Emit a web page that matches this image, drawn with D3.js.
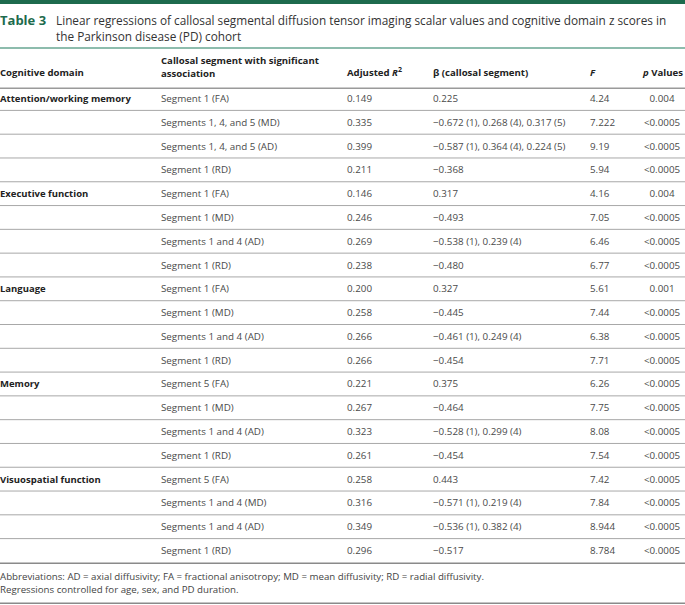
<!DOCTYPE html>
<html><head><meta charset="utf-8">
<script src="https://cdn.jsdelivr.net/npm/d3@7/dist/d3.min.js"></script>
<style>body{margin:0;background:#fff}svg{display:block}</style>
</head><body>
<script>
const domains = ["Attention/working memory","Executive function","Language","Memory","Visuospatial function"];
const segments = [
 ["Segment 1 (FA)","Segments 1, 4, and 5 (MD)","Segments 1, 4, and 5 (AD)","Segment 1 (RD)"],
 ["Segment 1 (FA)","Segment 1 (MD)","Segments 1 and 4 (AD)","Segment 1 (RD)"],
 ["Segment 1 (FA)","Segment 1 (MD)","Segments 1 and 4 (AD)","Segment 1 (RD)"],
 ["Segment 5 (FA)","Segment 1 (MD)","Segments 1 and 4 (AD)","Segment 1 (RD)"],
 ["Segment 5 (FA)","Segments 1 and 4 (MD)","Segments 1 and 4 (AD)","Segment 1 (RD)"]
];
const adjR2 = [
 ["0.149","0.335","0.399","0.211"],
 ["0.146","0.246","0.269","0.238"],
 ["0.200","0.258","0.266","0.266"],
 ["0.221","0.267","0.323","0.261"],
 ["0.258","0.316","0.349","0.296"]
];
const beta = [
 ["0.225","\u22120.672 (1), 0.268 (4), 0.317 (5)","\u22120.587 (1), 0.364 (4), 0.224 (5)","\u22120.368"],
 ["0.317","\u22120.493","\u22120.538 (1), 0.239 (4)","\u22120.480"],
 ["0.327","\u22120.445","\u22120.461 (1), 0.249 (4)","\u22120.454"],
 ["0.375","\u22120.464","\u22120.528 (1), 0.299 (4)","\u22120.454"],
 ["0.443","\u22120.571 (1), 0.219 (4)","\u22120.536 (1), 0.382 (4)","\u22120.517"]
];
const fVals = [
 ["4.24","7.222","9.19","5.94"],
 ["4.16","7.05","6.46","6.77"],
 ["5.61","7.44","6.38","7.71"],
 ["6.26","7.75","8.08","7.54"],
 ["7.42","7.84","8.944","8.784"]
];
const pVals = [
 ["0.004","<0.0005","<0.0005","<0.0005"],
 ["0.004","<0.0005","<0.0005","<0.0005"],
 ["0.001","<0.0005","<0.0005","<0.0005"],
 ["<0.0005","<0.0005","<0.0005","<0.0005"],
 ["<0.0005","<0.0005","<0.0005","<0.0005"]
];
const titleLabel = "Table 3";
const titleLines = ["Linear regressions of callosal segmental diffusion tensor imaging scalar values and cognitive domain z scores in","the Parkinson disease (PD) cohort"];
const notes = ["Abbreviations: AD = axial diffusivity; FA = fractional anisotropy; MD = mean diffusivity; RD = radial diffusivity.","Regressions controlled for age, sex, and PD duration."];

const W = 685, H = 605;
const FONT = "'Open Sans', sans-serif";
const GREEN = "#1d6b4d";
const svg = d3.select("body").append("svg").attr("width", W).attr("height", H);
const g = svg.append("g");

const rows = [];
domains.forEach((d, i) => segments[i].forEach((s, j) => rows.push({
  domain: j === 0 ? d : "", seg: s, r2: adjR2[i][j], b: beta[i][j], f: fVals[i][j], p: pVals[i][j]
})));

const y = d3.scalePoint().domain(d3.range(rows.length)).range([98, 550]);

// top bar
g.append("rect").attr("x", 0).attr("y", 0).attr("width", W).attr("height", 4).attr("fill", GREEN);
// title
g.append("text").attr("x", 0).attr("y", 25).attr("font-family", FONT).attr("font-size", 13)
  .attr("font-weight", 700).attr("fill", GREEN).text(titleLabel);
const tg = g.append("g").attr("font-family", FONT).attr("font-size", 13).attr("fill", "#333");
const t1 = tg.append("text").attr("x", 56).attr("y", 25).text(titleLines[0]);
tg.append("text").attr("x", 56).attr("y", 41).text(titleLines[1]);
const fs = Math.floor(13 * 614 / t1.node().getComputedTextLength() * 10) / 10;
tg.attr("font-size", fs);

g.append("rect").attr("x", 0).attr("y", 47).attr("width", W).attr("height", 2).attr("fill", "#8dbcad");

// header
const cols = [
  {x: 161, anchor: "start"},
  {x: 347, anchor: "start"},
  {x: 433, anchor: "start"},
  {x: 590, anchor: "start"},
  {x: 662, anchor: "middle"}
];
const hdr = g.append("g").attr("font-family", FONT).attr("font-size", 9.6).attr("font-weight", 700).attr("fill", "#222");
hdr.append("text").attr("x", 0).attr("y", 76).text("Cognitive domain");
hdr.append("text").attr("x", 161).attr("y", 64).text("Callosal segment with significant");
hdr.append("text").attr("x", 161).attr("y", 77).text("association");
const r2t = hdr.append("text").attr("x", 347).attr("y", 76);
r2t.append("tspan").text("Adjusted ");
r2t.append("tspan").attr("font-style", "italic").text("R");
r2t.append("tspan").attr("font-size", 7).attr("dy", -4).text("2");
hdr.append("text").attr("x", 433).attr("y", 76).text("\u03b2 (callosal segment)");
hdr.append("text").attr("x", 590).attr("y", 76).attr("font-style", "italic").text("F");
const pt = hdr.append("text").attr("x", 663).attr("y", 76).attr("text-anchor", "middle");
pt.append("tspan").attr("font-style", "italic").text("p");
pt.append("tspan").text(" Values");

g.append("rect").attr("x", 0).attr("y", 87.5).attr("width", W).attr("height", 1.5).attr("fill", "#9a9a9a");

// body rows
const body = g.append("g").attr("font-family", FONT).attr("font-size", 9.8);
const rg = body.selectAll("g.row").data(rows).join("g").attr("class", "row")
  .attr("transform", (d, i) => `translate(0,${y(i)})`);
rg.append("text").attr("x", 0).attr("y", 4).attr("font-weight", 700).attr("font-size", 9.5).attr("fill", "#222").text(d => d.domain);
const keys = ["seg", "r2", "b", "f", "p"];
keys.forEach((kk, ci) => {
  const c = cols[ci];
  rg.append("text").attr("x", c.x).attr("y", 4).attr("text-anchor", c.anchor).attr("fill", "#4a4a4a").text(d => d[kk]);
});
body.selectAll("rect.sep").data(rows.slice(0, -1)).join("rect").attr("class", "sep")
  .attr("x", 0).attr("width", W).attr("height", 1).attr("fill", "#a8a8a8")
  .attr("y", (d, i) => (y(i) + y(i + 1)) / 2);

g.append("rect").attr("x", 0).attr("y", 562.5).attr("width", W).attr("height", 1.5).attr("fill", "#8a8a8a");
g.append("text").attr("x", 0).attr("y", 580).attr("font-family", FONT).attr("font-size", 9.7).attr("fill", "#444").text(notes[0]);
g.append("text").attr("x", 0).attr("y", 593).attr("font-family", FONT).attr("font-size", 9.7).attr("fill", "#444").text(notes[1]);
g.append("rect").attr("x", 0).attr("y", 602.5).attr("width", W).attr("height", 1.5).attr("fill", "#8a8a8a");
</script>
</body></html>
